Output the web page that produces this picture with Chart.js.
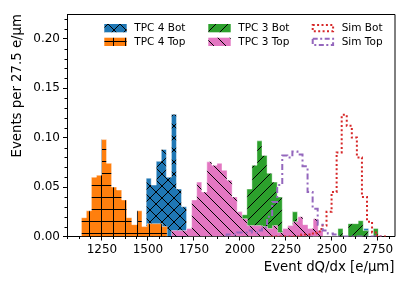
<!DOCTYPE html>
<html>
<head>
<meta charset="utf-8">
<script src="https://cdn.jsdelivr.net/npm/chart.js@4.4.1/dist/chart.umd.min.js"></script>
<style>
  html, body { margin: 0; padding: 0; background: #fff; }
</style>
</head>
<body>
<canvas id="chart" width="415" height="281"></canvas>
<script>
// histogram bins are 27.5 e/um wide, each list starts at its own left edge
const binWidth = 27.5;

const tpc4BotStart = 1490;
const tpc4Bot = [0.059, 0.052, 0.076, 0.088, 0.060, 0.1235, 0.048, 0.030,
  0, 0, 0, 0, 0, 0, 0, 0, 0, 0, 0, 0, 0, 0, 0, 0, 0, 0, 0, 0, 0, 0, 0, 0,
  0.004, 0, 0, 0, 0, 0, 0, 0, 0, 0, 0, 0.008];

const tpc4TopStart = 1137.5;
const tpc4Top = [0.019, 0.026, 0.060, 0.062, 0.098, 0.074, 0.050, 0.047, 0.037,
  0.019, 0.012, 0.026, 0.010, 0.013, 0.013, 0.013, 0.010];

const tpc3BotStart = 1982.5;
const tpc3Bot = [0.025, 0.022, 0.048, 0.072, 0.0967, 0.082, 0.064, 0.055, 0.040,
  0.006, 0.006, 0.025, 0.016, 0.006, 0, 0, 0.006, 0, 0, 0, 0.008, 0, 0.013,
  0.013, 0.016, 0.006, 0, 0.008];

const tpc3TopStart = 1627.5;
const tpc3Top = [0.006, 0.006, 0.006, 0.008, 0.037, 0.055, 0.045, 0.0755, 0.072,
  0.074, 0.067, 0.057, 0.040, 0.025, 0.018, 0.011, 0.011, 0.011, 0.010, 0.008,
  0.011, 0.004, 0.008, 0.011, 0.015, 0.020, 0.012, 0.008, 0.018, 0.006];

const simBotStart = 2168;
const simBot = [0, 0, 0, 0, 0, 0, 0.002, 0.002, 0.003, 0.005, 0.011, 0.025, 0.045,
  0.085, 0.123, 0.112, 0.100, 0.080, 0.040, 0.015, 0.004, 0, 0];

const simTopStart = 1927.5;
const simTop = [0.002, 0.002, 0.004, 0.004, 0.006, 0.004, 0.006, 0.009, 0.020,
  0.035, 0.052, 0.082, 0.080, 0.086, 0.083, 0.071, 0.045, 0.028, 0.012, 0.006,
  0.003, 0.002, 0, 0, 0, 0, 0, 0, 0, 0, 0];

const xTicks = [1250, 1500, 1750, 2000, 2250, 2500, 2750];
const yTicks = [0, 0.05, 0.10, 0.15, 0.20];

const font = 'DejaVu Sans';

function histPoints(start, values) {
  const pts = [{x: start, y: 0}];
  values.forEach((v, i) => pts.push({x: start + i * binWidth, y: v}));
  pts.push({x: start + values.length * binWidth, y: 0});
  return pts;
}

// hatch tiles, like matplotlib's x + / \ hatches
function hatch(bg, kind) {
  const s = 12;
  const c = document.createElement('canvas');
  c.width = s; c.height = s;
  const g = c.getContext('2d');
  g.fillStyle = bg;
  g.fillRect(0, 0, s, s);
  g.strokeStyle = '#000';
  g.lineWidth = 1;
  g.beginPath();
  if (kind === '+') {
    g.moveTo(0, 5.5); g.lineTo(s, 5.5);
    g.moveTo(5.5, 0); g.lineTo(5.5, s);
  }
  if (kind === '/' || kind === 'x') {
    g.moveTo(-1, s + 1); g.lineTo(s + 1, -1);
    g.moveTo(-1, 1); g.lineTo(1, -1);
    g.moveTo(s - 1, s + 1); g.lineTo(s + 1, s - 1);
  }
  if (kind === '\\' || kind === 'x') {
    g.moveTo(-1, -1); g.lineTo(s + 1, s + 1);
    g.moveTo(s - 1, -1); g.lineTo(s + 1, 1);
    g.moveTo(-1, s - 1); g.lineTo(1, s + 1);
  }
  g.stroke();
  return g.createPattern(c, 'repeat');
}

const blueFill = hatch('#1f77b4', 'x');
const orangeFill = hatch('#ff7f0e', '+');
const greenFill = hatch('#2ca02c', '/');
const pinkFill = hatch('#e377c2', '\\');

const edge = 'rgba(255,255,255,0.45)';

const datasets = [
  {label: 'TPC 4 Bot', data: histPoints(tpc4BotStart, tpc4Bot), backgroundColor: blueFill,
   borderColor: edge, borderWidth: 1, fill: 'origin', order: 6},
  {label: 'TPC 4 Top', data: histPoints(tpc4TopStart, tpc4Top), backgroundColor: orangeFill,
   borderColor: edge, borderWidth: 1, fill: 'origin', order: 5},
  {label: 'TPC 3 Bot', data: histPoints(tpc3BotStart, tpc3Bot), backgroundColor: greenFill,
   borderColor: edge, borderWidth: 1, fill: 'origin', order: 4},
  {label: 'TPC 3 Top', data: histPoints(tpc3TopStart, tpc3Top), backgroundColor: pinkFill,
   borderColor: edge, borderWidth: 1, fill: 'origin', order: 3},
  {label: 'Sim Bot', data: histPoints(simBotStart, simBot), borderColor: '#d62728',
   borderWidth: 2, borderDash: [2, 2.4], fill: false, order: 2},
  {label: 'Sim Top', data: histPoints(simTopStart, simTop), borderColor: '#9467bd',
   borderWidth: 2, borderDash: [6, 3, 2, 3], fill: false, order: 1}
];
datasets.forEach(d => { d.stepped = 'before'; d.pointRadius = 0; });

const legendItems = [
  {text: 'TPC 4 Bot', fill: blueFill}, {text: 'TPC 4 Top', fill: orangeFill},
  {text: 'TPC 3 Bot', fill: greenFill}, {text: 'TPC 3 Top', fill: pinkFill},
  {text: 'Sim Bot', line: '#d62728', dash: [2, 2.4]}, {text: 'Sim Top', line: '#9467bd', dash: [5, 2.5, 2, 2.5]}
];

const extras = {
  id: 'extras',
  afterDraw(chart) {
    const ctx = chart.ctx;
    const a = chart.chartArea;
    const xs = chart.scales.x, ys = chart.scales.y;
    ctx.save();
    ctx.strokeStyle = '#000';
    ctx.lineWidth = 1;
    // top and right spines
    ctx.beginPath();
    ctx.moveTo(a.left, a.top + 0.5); ctx.lineTo(a.right + 0.5, a.top + 0.5);
    ctx.lineTo(a.right + 0.5, a.bottom);
    ctx.stroke();
    // minor ticks
    ctx.beginPath();
    for (let v = 1062.5; v < 2840; v += 62.5) {
      if (xTicks.includes(v)) continue;
      const px = Math.round(xs.getPixelForValue(v)) + 0.5;
      ctx.moveTo(px, a.bottom); ctx.lineTo(px, a.bottom + 2.5);
    }
    for (let k = 1; k <= 22; k++) {
      if (k % 5 === 0) continue;
      const py = Math.round(ys.getPixelForValue(k / 100)) + 0.5;
      ctx.moveTo(a.left, py); ctx.lineTo(a.left - 2.5, py);
    }
    ctx.stroke();
    // legend, three columns
    const colX = [104.3, 208.3, 311.7];
    const rowY = [24, 37.7];
    ctx.font = '10.5px "' + font + '"';
    ctx.textBaseline = 'middle';
    ctx.fillStyle = '#000';
    legendItems.forEach((it, i) => {
      const x = colX[Math.floor(i / 2)], y = rowY[i % 2];
      if (it.fill) {
        ctx.fillStyle = it.fill;
        ctx.fillRect(x, y, 22.4, 8.3);
      } else {
        ctx.strokeStyle = it.line;
        ctx.lineWidth = 2;
        ctx.setLineDash(it.dash);
        ctx.strokeRect(x + 1, y + 1, 20.4, 6.3);
        ctx.setLineDash([]);
      }
      ctx.fillStyle = '#000';
      ctx.fillText(it.text, x + 30, y + 4.3);
    });
    ctx.restore();
  }
};

new Chart(document.getElementById('chart'), {
  type: 'line',
  data: {datasets: datasets},
  options: {
    responsive: false,
    animation: false,
    layout: {padding: {top: 14, right: 20.5, left: 0, bottom: 0}},
    plugins: {legend: {display: false}, tooltip: {enabled: false}},
    elements: {line: {tension: 0}},
    scales: {
      x: {
        type: 'linear', min: 1060, max: 2840,
        afterFit(s) { s.height = 44.5; },
        afterBuildTicks(s) { s.ticks = xTicks.map(v => ({value: v})); },
        grid: {drawOnChartArea: false, tickLength: 4, tickColor: '#000'},
        border: {color: '#000', width: 1},
        ticks: {color: '#000', font: {family: font, size: 12}, padding: 2, maxRotation: 0,
                autoSkip: false, callback: v => String(v)},
        title: {display: true, text: 'Event dQ/dx [e/µm]', align: 'end', color: '#000',
                font: {family: font, size: 13.3}, padding: {top: 0, bottom: 5.5}}
      },
      y: {
        type: 'linear', min: 0, max: 0.225,
        afterFit(s) { s.width = 67; },
        afterBuildTicks(s) { s.ticks = yTicks.map(v => ({value: v})); },
        grid: {drawOnChartArea: false, tickLength: 4, tickColor: '#000'},
        border: {color: '#000', width: 1},
        ticks: {color: '#000', font: {family: font, size: 12}, padding: 3,
                callback: v => v.toFixed(2)},
        title: {display: true, text: 'Events per 27.5 e/µm', align: 'end', color: '#000',
                font: {family: font, size: 13.3}, padding: {top: 9.5, bottom: 0}}
      }
    }
  },
  plugins: [extras]
});
</script>
</body>
</html>
